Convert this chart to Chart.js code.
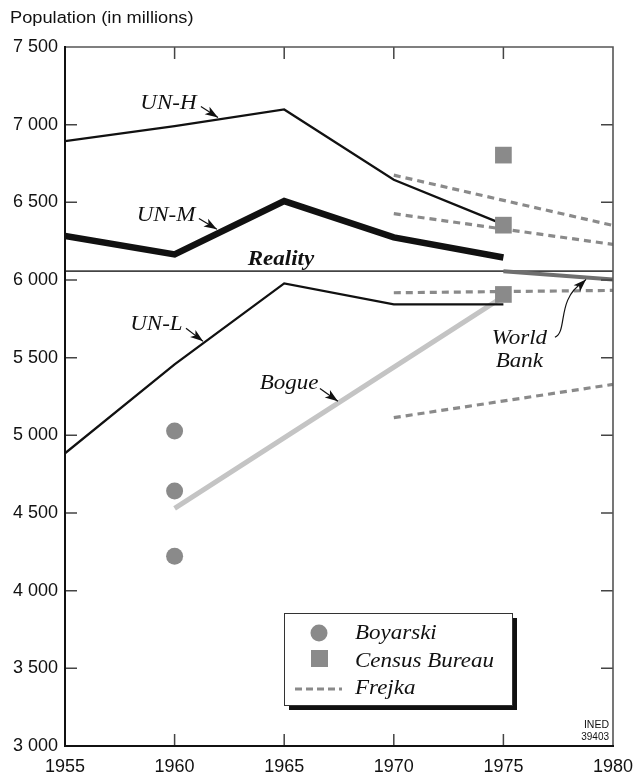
<!DOCTYPE html>
<html>
<head>
<meta charset="utf-8">
<script src="https://cdn.jsdelivr.net/npm/chart.js@4/dist/chart.umd.min.js"></script>
<style>
  html, body { margin: 0; padding: 0; background: #ffffff; }
  #wrap { width: 634px; height: 775px; }
</style>
</head>
<body>
<div id="wrap"><canvas id="c" width="634" height="775"></canvas></div>
<script>
// ---------- data (millions) ----------
const years = [1955, 1960, 1965, 1970, 1975];
const unH = [6894, 6990, 7098, 6645, 6358];
const unM = [6283, 6165, 6508, 6274, 6145];
const unL = [4884, 5457, 5978, 5843, 5843];

const bogueYears = [1960, 1975];
const bogue = [4530, 5893];

const boyarskiYear = 1960;
const boyarski = [5028, 4642, 4221];

const censusYear = 1975;
const census = [6804, 6353, 5907];

const frejkaYears = [1970, 1980];
const frejka1 = [6675, 6351];
const frejka2 = [6427, 6229];
const frejka3 = [5918, 5933];
const frejka4 = [5114, 5328];

const worldBankYears = [1975, 1980];
const worldBank = [6057, 6003];

const realityYears = [1955, 1980];
const reality = [6057, 6057];

const xTicks = [1955, 1960, 1965, 1970, 1975, 1980];
const yTicks = [3000, 3500, 4000, 4500, 5000, 5500, 6000, 6500, 7000, 7500];

const legendLabels = ['Boyarski', 'Census Bureau', 'Frejka'];

// ---------- helpers ----------
const pts = (xs, ys) => ys.map((v, i) => ({ x: xs[i], y: v }));
const ptsAt = (xv, ys) => ys.map(v => ({ x: xv, y: v }));
const fmtThousands = v => {
  const s = String(Math.round(v));
  return s.length > 3 ? s.slice(0, s.length - 3) + '\u00a0' + s.slice(s.length - 3) : s;
};

const GREY = '#8a8a8a';

function lineDs(label, data, color, width, extra) {
  return Object.assign({
    label, data, borderColor: color, borderWidth: width,
    pointRadius: 0, showLine: true, fill: false, tension: 0,
    borderJoinStyle: 'miter', borderCapStyle: 'butt'
  }, extra || {});
}

const datasets = [
  { label: 'Boyarski', data: ptsAt(boyarskiYear, boyarski), showLine: false,
    pointStyle: 'circle', pointRadius: 8.5, pointBackgroundColor: GREY, pointBorderWidth: 0 },
  { label: 'Census Bureau', data: ptsAt(censusYear, census), showLine: false,
    pointStyle: 'rect', pointRadius: 11.8, pointBackgroundColor: GREY, pointBorderWidth: 0 },
  lineDs('UN-M', pts(years, unM), '#111111', 6.5),
  lineDs('UN-H', pts(years, unH), '#111111', 2.3),
  lineDs('UN-L', pts(years, unL), '#111111', 2.3),
  lineDs('World Bank', pts(worldBankYears, worldBank), '#6f6f6f', 4),
  lineDs('Bogue', pts(bogueYears, bogue), '#c4c4c4', 5),
  lineDs('Frejka', pts(frejkaYears, frejka1), GREY, 3.2, { borderDash: [7, 5] }),
  lineDs('Frejka 2', pts(frejkaYears, frejka2), GREY, 3.2, { borderDash: [7, 5] }),
  lineDs('Frejka 3', pts(frejkaYears, frejka3), GREY, 3.2, { borderDash: [7, 5] }),
  lineDs('Frejka 4', pts(frejkaYears, frejka4), GREY, 3.2, { borderDash: [7, 5] }),
  lineDs('Reality', pts(realityYears, reality), '#444444', 1.6)
];

// annotation positions in data units
const annotations = [
  { text: 'UN-H', x: 1959.72, y: 7104, arrow: [1961.20, 7117, 1961.98, 7046] },
  { text: 'UN-M', x: 1959.61, y: 6383, arrow: [1961.11, 6396, 1961.93, 6326] },
  { text: 'UN-L', x: 1959.17, y: 5676, arrow: [1960.52, 5689, 1961.30, 5605] },
  { text: 'Bogue', x: 1965.22, y: 5296, arrow: [1966.63, 5302, 1967.45, 5219] },
  { text: 'Reality', x: 1964.85, y: 6094, bold: true },
  { text: 'World', x: 1975.73, y: 5586 },
  { text: 'Bank', x: 1975.73, y: 5437 }
];
const worldBankCurve = [1977.35, 5631, 1977.95, 5669, 1977.40, 5875, 1978.63, 5985, 1978.77, 6004];

const SERIF = "'Liberation Serif', 'Times New Roman', serif";
const SANS = "'Liberation Sans', Arial, Helvetica, sans-serif";
const STRETCH = 1.15;

function stext(ctx, str, x, y, font, align, sx) {
  ctx.save();
  ctx.font = font;
  ctx.translate(x, y);
  ctx.scale(sx || STRETCH, 1);
  ctx.textAlign = align || 'left';
  ctx.textBaseline = 'alphabetic';
  ctx.fillStyle = '#111';
  ctx.fillText(str, 0, 0);
  ctx.restore();
}

function arrowHead(ctx, x0, y0, x1, y1, len, half) {
  const ang = Math.atan2(y1 - y0, x1 - x0);
  const bx = x1 - len * Math.cos(ang), by = y1 - len * Math.sin(ang);
  const nx = -Math.sin(ang), ny = Math.cos(ang);
  ctx.beginPath();
  ctx.moveTo(x1, y1);
  ctx.lineTo(bx + nx * half, by + ny * half);
  ctx.lineTo(bx + (x1 - bx) * 0.25, by + (y1 - by) * 0.25);
  ctx.lineTo(bx - nx * half, by - ny * half);
  ctx.closePath();
  ctx.fill();
}

const decor = {
  id: 'decor',
  afterDraw(chart) {
    const { ctx, chartArea: a, scales: { x, y } } = chart;
    const X = v => x.getPixelForValue(v);
    const Y = v => y.getPixelForValue(v);
    ctx.save();

    // inner ticks
    ctx.strokeStyle = '#444';
    ctx.lineWidth = 1.5;
    ctx.beginPath();
    x.ticks.forEach(t => {
      const px = X(t.value);
      if (px <= a.left + 1 || px >= a.right - 1) return;
      ctx.moveTo(px, a.bottom); ctx.lineTo(px, a.bottom - 12);
      ctx.moveTo(px, a.top); ctx.lineTo(px, a.top + 12);
    });
    y.ticks.forEach(t => {
      const py = Y(t.value);
      if (py <= a.top + 1 || py >= a.bottom - 1) return;
      ctx.moveTo(a.left, py); ctx.lineTo(a.left + 12, py);
      ctx.moveTo(a.right, py); ctx.lineTo(a.right - 12, py);
    });
    ctx.stroke();

    // frame
    ctx.strokeStyle = '#555';
    ctx.lineWidth = 1.6;
    ctx.beginPath();
    ctx.moveTo(a.left, a.top); ctx.lineTo(a.right, a.top); ctx.lineTo(a.right, a.bottom);
    ctx.stroke();
    ctx.strokeStyle = '#111';
    ctx.lineWidth = 2;
    ctx.beginPath();
    ctx.moveTo(a.left, a.top - 1); ctx.lineTo(a.left, a.bottom); ctx.lineTo(a.right + 1, a.bottom);
    ctx.stroke();

    // axis title
    stext(ctx, 'Population (in millions)', 10, 23, '16px ' + SANS, 'left', 1.14);

    // annotations
    ctx.fillStyle = '#111';
    ctx.strokeStyle = '#111';
    annotations.forEach(an => {
      const font = (an.bold ? 'italic bold ' : 'italic ') + '20px ' + SERIF;
      stext(ctx, an.text, X(an.x), Y(an.y), font, 'center');
      if (an.arrow) {
        const [ax0, ay0, ax1, ay1] = an.arrow;
        const x0 = X(ax0), y0 = Y(ay0), x1 = X(ax1), y1 = Y(ay1);
        ctx.lineWidth = 1.2;
        ctx.beginPath(); ctx.moveTo(x0, y0); ctx.lineTo(x1, y1); ctx.stroke();
        arrowHead(ctx, x0, y0, x1, y1, 13, 4.5);
      }
    });
    // world bank curved arrow
    const c = worldBankCurve;
    ctx.lineWidth = 1.2;
    ctx.beginPath();
    ctx.moveTo(X(c[0]), Y(c[1]));
    ctx.bezierCurveTo(X(c[2]), Y(c[3]), X(c[4]), Y(c[5]), X(c[6]), Y(c[7]));
    ctx.lineTo(X(c[8]), Y(c[9]));
    ctx.stroke();
    arrowHead(ctx, X(c[6]) - 6, Y(c[7]) + 6, X(c[8]), Y(c[9]), 13, 4.5);

    // legend
    const lx = a.left + 219, ly = a.bottom - 133, lw = 228, lh = 92;
    ctx.fillStyle = '#111';
    ctx.fillRect(lx + 5, ly + 5, lw, lh);
    ctx.fillStyle = '#fff';
    ctx.fillRect(lx, ly, lw, lh);
    ctx.strokeStyle = '#333';
    ctx.lineWidth = 1;
    ctx.strokeRect(lx + 0.5, ly + 0.5, lw, lh);
    ctx.fillStyle = GREY;
    ctx.beginPath(); ctx.arc(lx + 35, ly + 20, 8.5, 0, Math.PI * 2); ctx.fill();
    ctx.fillRect(lx + 27, ly + 37, 17, 17);
    ctx.strokeStyle = GREY;
    ctx.lineWidth = 3.2;
    ctx.setLineDash([7, 4]);
    ctx.beginPath(); ctx.moveTo(lx + 11, ly + 76); ctx.lineTo(lx + 58, ly + 76); ctx.stroke();
    ctx.setLineDash([]);
    const lf = 'italic 20px ' + SERIF;
    stext(ctx, legendLabels[0], lx + 71, ly + 26, lf, 'left');
    stext(ctx, legendLabels[1], lx + 71, ly + 54, lf, 'left');
    stext(ctx, legendLabels[2], lx + 71, ly + 81, lf, 'left');

    // INED mark
    stext(ctx, 'INED', a.right - 4, a.bottom - 18, '10.5px ' + SANS, 'right', 1.0);
    stext(ctx, '39403', a.right - 4, a.bottom - 6, '10px ' + SANS, 'right', 1.0);

    ctx.restore();
  }
};

Chart.defaults.font.family = SANS;
Chart.defaults.color = '#111';

new Chart(document.getElementById('c'), {
  type: 'line',
  data: { datasets },
  options: {
    responsive: false,
    animation: false,
    events: [],
    layout: { padding: { top: 47, right: 21, left: 0, bottom: 0 } },
    plugins: { legend: { display: false }, tooltip: { enabled: false } },
    scales: {
      x: {
        type: 'linear', min: 1955, max: 1980,
        afterFit: s => { s.height = 29; s.paddingLeft = 0; s.paddingRight = 0; },
        afterBuildTicks: s => { s.ticks = xTicks.map(v => ({ value: v })); },
        grid: { display: false, drawTicks: false, tickLength: 0 },
        border: { display: false },
        ticks: { font: { size: 18 }, padding: 10, autoSkip: false, maxRotation: 0, callback: v => String(v) }
      },
      y: {
        type: 'linear', min: 3000, max: 7500,
        afterFit: s => { s.width = 65; s.paddingTop = 0; s.paddingBottom = 0; },
        afterBuildTicks: s => { s.ticks = yTicks.map(v => ({ value: v })); },
        grid: { display: false, drawTicks: false, tickLength: 0 },
        border: { display: false },
        ticks: { font: { size: 18 }, padding: 7, autoSkip: false, callback: v => fmtThousands(v) }
      }
    }
  },
  plugins: [decor]
});
</script>
</body>
</html>
